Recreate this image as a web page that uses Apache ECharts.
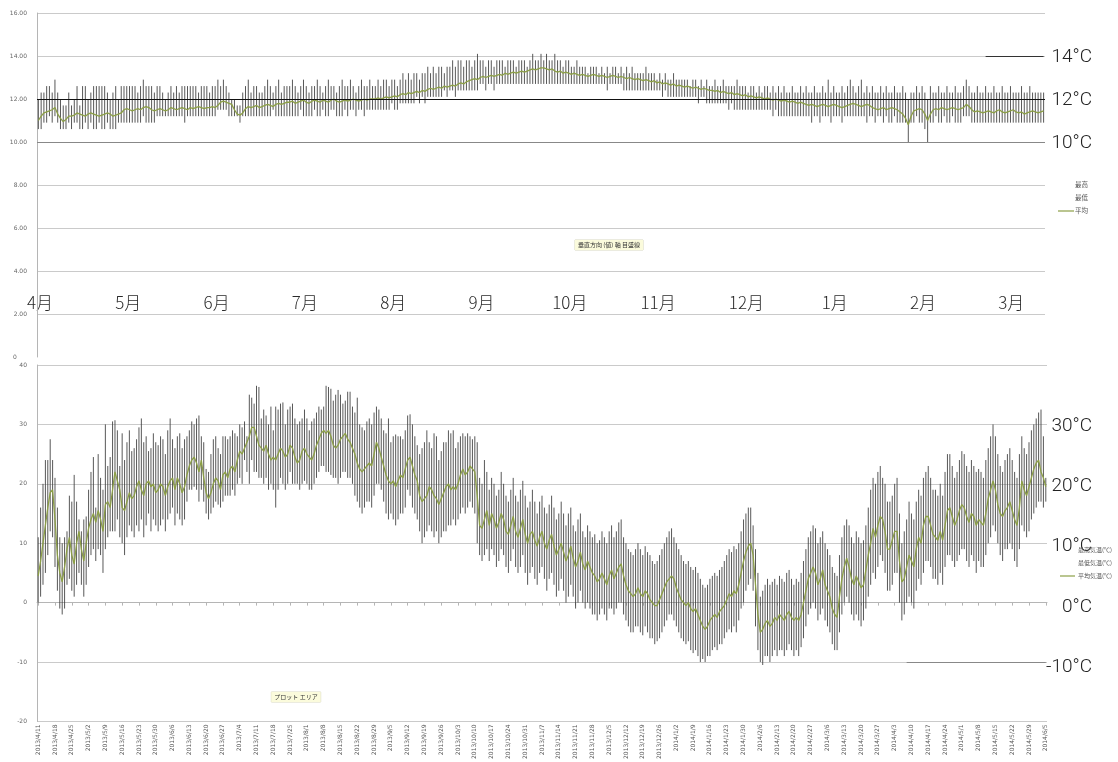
<!DOCTYPE html>
<html><head><meta charset="utf-8">
<script src="https://cdn.jsdelivr.net/npm/echarts@6/dist/echarts.min.js"></script>
<style>html,body{margin:0;padding:0;background:#fff;}#c{width:1118px;height:762px;}</style>
</head><body><div id="c"></div>
<script>
// ---------- top chart (daily, 4月 .. 3月) ----------
const monthLabels = ['4月','5月','6月','7月','8月','9月','10月','11月','12月','1月','2月','3月'];
const topLegend = ['最高','最低','平均'];
const topUnitLabels = [['14°C',14],['12°C',12],['10°C',10]];

const topAvg = [
11.0,11.2,11.35,11.4,11.45,11.5,11.6,11.3,11.1,10.95,11.05,11.2,11.2,11.25,11.35,11.3,11.25,11.2,11.3,11.35,11.3,11.25,11.2,11.25,11.3,11.35,11.3,11.2,11.25,11.3,
11.35,11.5,11.55,11.5,11.45,11.5,11.55,11.5,11.6,11.65,11.6,11.5,11.45,11.5,11.55,11.5,11.45,11.5,11.6,11.55,11.5,11.55,11.6,11.55,11.5,11.6,11.55,11.6,11.65,11.6,11.55,
11.6,11.6,11.65,11.6,11.7,11.85,11.9,11.85,11.8,11.75,11.5,11.3,11.25,11.35,11.55,11.65,11.6,11.65,11.7,11.6,11.65,11.7,11.75,11.7,11.65,11.75,11.8,11.75,11.8,11.85,
11.85,11.9,11.8,11.85,11.9,11.95,11.85,11.8,11.9,11.95,11.9,11.85,11.95,11.9,11.85,11.95,12.0,11.9,11.85,11.9,11.95,11.9,11.95,12.0,11.95,11.9,11.95,12.0,11.95,12.0,12.0,
12.0,12.05,12.0,12.05,12.1,12.05,12.1,12.15,12.1,12.2,12.25,12.2,12.3,12.25,12.3,12.35,12.3,12.4,12.35,12.45,12.5,12.45,12.5,12.55,12.5,12.6,12.55,12.6,12.65,12.6,12.7,
12.75,12.7,12.8,12.85,12.9,12.95,12.9,13.0,13.05,13.0,13.05,13.1,13.05,13.1,13.15,13.1,13.2,13.15,13.2,13.25,13.2,13.25,13.3,13.25,13.3,13.35,13.4,13.35,13.4,13.45,
13.45,13.4,13.35,13.4,13.3,13.25,13.3,13.2,13.25,13.2,13.15,13.2,13.15,13.1,13.15,13.1,13.05,13.1,13.15,13.1,13.05,13.1,13.05,13.0,13.05,13.1,13.05,13.0,13.05,13.0,12.95,
13.0,12.95,12.9,12.95,12.9,12.85,12.9,12.85,12.8,12.85,12.75,12.8,12.7,12.75,12.7,12.65,12.7,12.6,12.65,12.6,12.55,12.6,12.55,12.5,12.55,12.5,12.45,12.5,12.45,12.4,
12.4,12.35,12.4,12.3,12.35,12.3,12.25,12.3,12.2,12.25,12.2,12.15,12.2,12.1,12.15,12.1,12.05,12.1,12.05,12.0,12.05,12.0,11.95,12.0,11.95,11.9,11.95,11.9,11.85,11.9,11.85,
11.8,11.85,11.8,11.75,11.7,11.75,11.7,11.65,11.7,11.75,11.7,11.65,11.7,11.75,11.7,11.65,11.6,11.65,11.7,11.75,11.8,11.75,11.7,11.65,11.7,11.75,11.7,11.6,11.55,11.5,11.55,
11.6,11.5,11.55,11.6,11.55,11.5,11.4,11.3,11.1,10.8,11.2,11.45,11.5,11.55,11.5,11.3,11.0,11.3,11.5,11.55,11.5,11.6,11.55,11.5,11.55,11.6,11.55,11.5,
11.55,11.6,11.75,11.65,11.5,11.4,11.45,11.4,11.35,11.4,11.45,11.4,11.35,11.45,11.5,11.4,11.35,11.4,11.45,11.5,11.4,11.35,11.4,11.3,11.35,11.4,11.45,11.4,11.35,11.4,11.45
];
const topHigh = [
12.0,12.3,12.3,12.6,12.6,12.3,12.9,12.3,12.0,11.7,11.7,12.3,11.7,12.0,12.6,11.7,12.6,12.6,12.0,12.3,12.6,12.6,12.6,12.6,12.6,12.3,12.0,12.3,12.6,12.0,
12.6,12.6,12.6,12.6,12.6,12.6,12.3,12.6,12.9,12.6,12.6,12.6,12.3,12.6,12.6,12.3,12.0,12.3,12.6,12.3,12.6,12.3,12.6,12.6,12.6,12.6,12.6,12.6,12.3,12.6,12.6,
12.6,12.3,12.6,12.6,12.9,12.6,12.9,12.6,12.3,12.0,12.0,11.7,11.7,12.3,12.6,12.9,12.3,12.6,12.6,12.3,12.3,12.6,12.9,12.6,12.3,12.6,12.9,12.3,12.6,12.6,
12.6,12.9,12.6,12.3,12.6,12.9,12.6,12.3,12.6,12.6,12.9,12.6,12.3,12.6,12.9,12.6,12.6,12.3,12.6,12.9,12.6,12.6,12.9,12.6,12.3,12.6,12.9,12.6,12.6,12.9,12.6,
12.6,12.9,12.6,12.9,12.9,12.6,12.9,12.9,12.6,12.9,13.2,12.9,13.2,12.9,13.2,13.2,12.9,13.2,13.2,13.5,13.2,13.5,13.2,13.5,13.5,13.2,13.5,13.5,13.8,13.5,13.8,
13.8,13.5,13.8,13.8,13.5,13.8,14.1,13.8,13.8,13.5,13.8,13.8,13.5,13.8,13.8,13.8,13.5,13.8,13.8,13.8,13.5,13.8,13.8,13.8,13.5,13.8,14.1,13.8,13.8,14.1,
13.8,14.1,13.8,13.8,14.1,13.8,13.8,13.5,13.8,13.8,13.5,13.5,13.8,13.5,13.5,13.5,13.2,13.5,13.5,13.5,13.2,13.5,13.2,13.5,13.2,13.5,13.5,13.2,13.5,13.2,13.5,
13.2,13.5,13.2,13.2,13.2,13.2,13.5,13.2,13.2,13.2,12.9,13.2,12.9,13.2,12.9,12.9,13.2,12.9,12.9,12.9,12.9,12.9,12.6,12.9,12.9,12.6,12.9,12.6,12.9,12.6,
12.6,12.9,12.6,12.6,12.9,12.6,12.6,12.6,12.6,12.9,12.6,12.6,12.6,12.3,12.6,12.6,12.3,12.6,12.3,12.6,12.6,12.3,12.6,12.3,12.6,12.3,12.6,12.3,12.3,12.6,12.3,
12.3,12.6,12.3,12.6,12.3,12.3,12.6,12.3,12.3,12.6,12.3,12.9,12.3,12.6,12.3,12.3,12.6,12.3,12.6,12.9,12.6,12.3,12.6,12.9,12.3,12.6,12.3,12.6,12.3,12.3,12.6,
12.3,12.6,12.3,12.3,12.6,12.3,12.3,12.6,12.3,12.0,12.3,12.3,12.6,12.3,12.6,12.3,12.0,12.6,12.3,12.3,12.6,12.3,12.3,12.6,12.3,12.3,12.6,12.3,
12.3,12.6,12.9,12.6,12.3,12.3,12.6,12.3,12.3,12.6,12.3,12.3,12.6,12.3,12.3,12.6,12.3,12.3,12.6,12.3,12.3,12.3,12.6,12.3,12.3,12.6,12.3,12.3,12.3,12.3,12.3
];
const topLow = [
10.6,10.6,10.9,10.9,11.2,10.9,11.2,10.9,10.6,10.6,10.6,10.9,10.6,10.9,10.9,10.6,10.6,10.9,10.6,10.9,10.6,10.6,10.9,10.6,10.6,10.9,10.6,10.6,10.6,10.9,
10.9,10.9,10.9,10.9,10.9,10.9,10.9,10.9,11.2,10.9,10.9,10.9,10.9,11.2,11.2,11.2,11.2,11.2,11.2,11.2,11.2,11.2,11.2,10.9,11.2,11.2,11.2,11.2,11.2,11.2,11.2,
11.2,11.2,11.2,11.2,11.5,11.5,11.5,11.5,11.2,11.2,11.2,11.2,10.9,11.2,11.2,11.2,11.2,11.2,11.2,11.2,11.2,11.2,11.2,11.2,11.5,11.2,11.2,11.2,11.2,11.2,
11.2,11.2,11.2,11.2,11.5,11.2,11.2,11.2,11.2,11.5,11.2,11.2,11.5,11.2,11.2,11.5,11.5,11.2,11.2,11.2,11.5,11.2,11.5,11.5,11.2,11.5,11.5,11.2,11.5,11.5,11.5,
11.5,11.5,11.5,11.5,11.5,11.5,11.8,11.5,11.5,11.8,11.8,11.8,11.8,11.8,11.8,12.1,11.8,12.1,11.8,12.1,12.1,12.1,12.1,12.1,12.1,12.4,12.1,12.4,12.4,12.1,12.4,
12.4,12.4,12.4,12.4,12.4,12.4,12.4,12.7,12.7,12.4,12.7,12.7,12.4,12.7,12.7,12.7,12.7,12.7,12.7,12.7,12.7,12.7,12.7,12.7,12.7,12.7,12.7,12.7,12.7,12.7,
12.7,12.7,12.7,12.7,12.7,12.7,12.7,12.7,12.7,12.7,12.7,12.7,12.7,12.7,12.7,12.7,12.7,12.7,12.7,12.7,12.7,12.7,12.7,12.4,12.7,12.7,12.7,12.7,12.7,12.4,12.4,
12.4,12.4,12.4,12.4,12.4,12.4,12.4,12.4,12.4,12.4,12.4,12.4,12.1,12.4,12.1,12.1,12.1,12.1,12.1,12.1,12.1,12.1,12.1,12.1,12.1,11.8,12.1,12.1,11.8,11.8,
11.8,11.8,11.8,11.8,11.8,11.8,11.5,11.8,11.5,11.5,11.5,11.5,11.5,11.5,11.5,11.5,11.5,11.5,11.5,11.5,11.5,11.5,11.2,11.5,11.2,11.2,11.2,11.2,11.2,11.2,11.2,
11.2,11.2,11.2,11.2,11.2,10.9,11.2,11.2,10.9,11.2,11.2,11.2,10.9,11.2,11.2,11.2,10.9,11.2,11.2,11.2,11.2,11.2,11.2,11.2,11.2,10.9,11.2,11.2,10.9,11.2,11.2,
10.9,11.2,10.9,10.9,11.2,10.9,10.9,10.9,10.9,10.0,10.9,10.9,11.2,10.9,10.9,10.6,10.0,10.9,10.9,11.2,10.9,10.9,11.2,10.9,10.9,11.2,10.9,10.9,
10.9,11.2,11.2,11.2,10.9,10.9,10.9,10.9,10.9,10.9,10.9,10.9,10.9,10.9,10.9,10.9,10.9,10.9,10.9,10.9,10.9,10.9,10.9,10.9,10.9,10.9,10.9,10.9,10.9,10.9,10.9
];

// ---------- bottom chart (daily, 2013/4/11 .. 2014/6/5) ----------
const bottomStart = '2013/4/11';
const bottomUnitLabels = [['30°C',30],['20°C',20],['10°C',10],['0°C',0],['-10°C',-10]];
const bottomLegend = ['最高気温(℃)','最低気温(℃)','平均気温(℃)'];
const botAvg = [
4.5,7,10,13,16,18.5,19,14,8,5,
3.5,6,9,11,8,6.5,10,12,9,7,
10,12.5,14,15,13.5,15.5,14,12,16.5,17,
16,19,22,20.5,19,16,15.5,17,18.5,17.5,
18,19.5,20.5,19,18,20,20.5,19.5,20,18.5,
19,20,19.5,18,19.5,20.5,21,19,21,20,
18.5,19.5,21.5,23,24,24.5,23.5,22,24,21,
18.5,17.5,18.5,20,21,20.5,19,21.5,22,21,
22.5,23,22,24,25.5,25,26,27,28,29.5,
29.5,28,26.5,26,25.5,26.5,25,24,24.5,24,
25,26,25.5,24.5,25,26.5,26,24.5,23.5,24,
25.5,26,25,24.5,24,25,26.5,27.5,28.5,29,
28.5,29,28,26.5,26,26.5,27.5,28,28.5,27.5,
27,26,25,23.5,22.5,22,22.5,23,23.5,23,
25,27,26,24.5,23,21.5,20.5,20,20.5,19.5,
20.5,21.5,21,22.5,24,24.5,23,21.5,20.5,18,
17,17.5,18,19.5,19,18,17.5,16.5,17.5,18.5,
19.5,20,19,19.5,19,20,21.5,22.5,21.5,22,
23,22.5,22,18,13,12.5,14,15.5,13,15,
14,12.5,13.5,15,14,12,11.5,13,14.5,12,
11,12.5,14,11.5,10,11.5,12,10.5,9.5,11,
12,10,9,10.5,11.5,9.5,8,9,10,8.5,
7,8,9.5,7.5,6,7,8.5,6.5,5.5,7,
6,5,4.5,3.5,4,5,4,3,4.5,5.5,
4,5,6,6.5,4.5,3,2,1.5,1,1.5,
2.5,1.5,1,2,1.5,0.5,0,-0.5,-0.5,0.5,
1.5,2.5,3.5,4,4.5,4,2.5,1.5,0.5,0,
-0.5,0,-1,-1.5,-1,-2,-3,-4,-4.5,-4,
-3,-2.5,-2,-2.5,-1.5,-1,-0.5,0.5,1.5,1,
2,1.5,3,5,7,8.5,9.5,10,8,3,
-2,-5,-4.5,-3.5,-3,-4,-3.5,-2.5,-3,-2,
-2.5,-3,-2,-1.5,-2.5,-3,-2.5,-3,-2,0,
2,4,5,6,5,3,4,5.5,3,2,
1,-1,-2,-2.5,1,4,6,7.5,6,4,
3,4.5,3.5,2.5,3,5.5,8,10,12.5,11,
13,14.5,14,12,9,9,10.5,12,12,7,
3.5,4,6,8,7,6,9,11,10,13,
14.5,14.5,13,11.5,11,10.5,12,10.5,13,15.5,
16,14.5,13,14,15.5,16.5,16,14.5,13.5,15,
14.5,13,14,13.5,13,15,17.5,19,20.5,19,
16.5,15,14.5,15.5,16,17,15.5,14,13,16,
20.5,19,18,19.5,21,22.5,23.5,24,22,21,
19.5
];
const botHigh = [
11,16,20,24,24,27.5,24,21,16,11,
10,11,12,18,17,21.5,17,14,12,14,
14.5,19,22,24.5,16,25,21,19,30,23,
24.5,30.5,30.7,29,23,28.5,24,27,29,25.5,
26,27.5,29.5,31,27,28,25.5,26,28.5,27,
26.5,28,27.5,25,29,31,27.5,26,28,28.5,
26,27.5,28,29,30.5,30,31,31.5,28,27,
22.5,22,25,27.5,28,26,25,28,28,27.5,
28,29,28.5,28,30,29.5,30.5,28,35,34.5,
33.5,36.5,36.3,31,32.5,31.5,30,33,29,33,
32.5,33.5,33.7,30,32.5,33,33.5,31,30,30.5,
31,32.5,31,29,30.5,31,32,33,32.5,33,
36.5,36.3,36,34,35,35.8,35,33.5,34,35.5,
35.5,33,32,34.5,30,29.5,29,30.5,31,30,
32,33,32.5,31,29,28.5,31,27,28,28.3,
28,28,27.5,29,31.5,31.7,30,28,26.5,25,
26,27,29,27,26,28.5,28,24,25.5,27,
27,29,28.5,29,26,27,28,28.5,28,28.5,
28,27.5,28,27,21,20,24,22,19,21,
20,18,19,22,20,18,17,19,21,18,
17,19,20.5,18,16,17,19,17,15,17,
18,16,15,16.5,18,16,14,15,17,15,
13,15,16,13,12,14,15,12,11,13,
12,11,11.5,10,10.5,12,11,10,12,13,
11,12,13.5,14,11,10,9,8.5,8,9,
10,9,8,9.5,8.5,8,7,6.5,7,8,
9,10,11,12,12.5,11,10,9,8,7,
6.5,7,6,5.5,6,5,4,3,2.5,3,
4,4.5,5,4.5,5.5,6,7,8,9,8.5,
9.5,9,10,12,14,15,16,16,13,9,
5,1,2,3,4,3,3.5,4,3,4.5,
4,3.5,5,5.5,4,3,4,3.5,5,7,
9,11,12,13,12.5,10,11,12,10,9,
8,6,5,4.5,8,11,13,14,13,11,
10,12,11,10,10.5,13,16,19,21,20,
22,23,21,20,17,17,18,20,21,15,
10,12,14,17,15,14,17,19,18,21,
22,23,21,19,19,18,20,18,22,25,
25,23,21,22,24,25.5,25,23,22,24,
23,22,22.5,22,21,24,26,28,30,28,
25,23,22,24,25,26,24,22,21,25,
28,26,25,27,29,30,31,32,32.5,28,
21
];
const botLow = [
0,1,3,5,8,12,11,6,2,-1,
-2,-1,3,4,2,1,3,5,3,1,
3,6,8,9,7,9,8,5,9,11,
12,12,12,14,11,10,8,11,13,12,
11,13,12,14,11,13,15,12,14,13,
12,13,14,12,14,15,16,13,15,14,
13,14,17,19,19,19.5,19,17,19,17,
15,14,15,16,17,16.5,16,17,18,18,
18,19,18,20,21,20,24,22,20,24,
22,22,21,21,20,21,19,20,19,16,
19,21,20,19,20,22,20,20,20,19,
20,20.5,20,19,19,20,21,22,23,23,
22,22,21.5,21,21,20,21,22,22,21,
21,20,18,17,16,15,16,17,17,16,
18,20,20,19,17,15,14,15,14,13,
14,15,15,16,19,18,16,15,14,12,
10,11,12,13,12,11,12,10,11,12,
12,13,13,14,13,14,15,16,15,16,
17,16,15,10,8,7,8,9,7,9,
8,6,7,9,8,6,5,7,9,6,
5,6,8,5,3,5,6,4,3,5,
6,4,2,4,5,3,1,2,4,2,
0,1,3,1,-1,0,2,0,-1,0,
-1,-2,-2,-3,-2,-1,-2,-3,-1,-1,
-2,-1,0,0,-2,-3,-4,-5,-5,-4,
-4,-5,-5.5,-4,-5,-6,-6,-7,-6.5,-6,
-5,-4,-3,-2,-2,-3,-4,-5,-6,-6.5,
-7,-6.5,-8,-8.5,-8,-9,-10,-9.5,-10,-9,
-9,-8,-7.5,-8,-7,-7,-6,-5,-4.5,-5,
-4,-5,-3,-1,0,2,3,4,2,-4,
-8,-10,-10.5,-9,-9,-10,-9,-8,-9,-8,
-8,-9,-8,-7,-8,-9,-8,-9,-7.5,-6,
-4,-2,-1,0,-1,-3,-2,-1,-3,-4,
-5,-7,-8,-8,-5,-2,0,1,0,-2,
-3,-2,-3,-4,-3,-1,1,3,5,4,
6,8,7,5,2,2,3,5,5,0,
-3,-2,0,1,0,-1,2,4,3,5,
7,7,6,4,4,3,5,3,6,8,
8,7,6,7,8,9,9,7,6,8,
7,5,7,6,6,8,10,11,13,12,
10,8,7,9,9,10,9,7,6,9,
13,12,11,12,14,15,16,17,17,16,
17
];

// category labels (dates)
function buildDates(start, n) {
  const p = start.split('/').map(Number);
  const out = [];
  for (let i = 0; i < n; i++) {
    const d = new Date(Date.UTC(p[0], p[1]-1, p[2] + i));
    out.push(d.getUTCFullYear() + '/' + (d.getUTCMonth()+1) + '/' + d.getUTCDate());
  }
  return out;
}
const botDates = buildDates(bottomStart, botAvg.length);
const topDays = topAvg.map((_, i) => String(i));

const chart = echarts.init(document.getElementById('c'), null, {renderer: 'canvas'});

function hiLo(params, api) {
  const i = api.value(0);
  const a = api.coord([i, api.value(1)]);
  const b = api.coord([i, api.value(2)]);
  return {type: 'line', shape: {x1: a[0], y1: a[1], x2: b[0], y2: b[1]},
          style: {stroke: '#3a3a3a', lineWidth: 0.85}};
}

const GREEN = '#8c9f47';
const axisLbl = {color: '#666', fontSize: 6, fontFamily: 'DejaVu Sans'};
const unitFont = '300 19px Roboto';

const graphics = [];
monthLabels.forEach((m, k) => {
  graphics.push({type: 'text', x: 40 + 88.3 * k, y: 303,
    style: {text: m, fill: '#2a2a2a', font: '300 17px "Noto Sans CJK JP"', textAlign: 'center', textVerticalAlign: 'middle'}});
});
const topY = v => 357 - v * 21.5;
topUnitLabels.forEach(([t, v]) => graphics.push({type: 'text', x: 1092, y: topY(v) + 1,
  style: {text: t, fill: '#222', font: unitFont, textAlign: 'right', textVerticalAlign: 'middle'}}));
const botY = v => 606 - v * 6.03;
bottomUnitLabels.forEach(([t, v]) => graphics.push({type: 'text', x: 1092, y: botY(v) + 1,
  style: {text: t, fill: '#222', font: unitFont, textAlign: 'right', textVerticalAlign: 'middle'}}));
topLegend.forEach((t, k) => graphics.push({type: 'text', x: 1088, y: 185 + 13 * k,
  style: {text: t, fill: '#555', font: '6.5px "Noto Sans CJK JP"', textAlign: 'right', textVerticalAlign: 'middle'}}));
graphics.push({type: 'line', shape: {x1: 1058, y1: 211, x2: 1074, y2: 211}, style: {stroke: GREEN, lineWidth: 1.2}});
bottomLegend.forEach((t, k) => graphics.push({type: 'text', x: 1112, y: 550 + 13 * k,
  style: {text: t, fill: '#555', font: '6px "Noto Sans CJK JP"', textAlign: 'right', textVerticalAlign: 'middle'}}));
graphics.push({type: 'line', shape: {x1: 1060, y1: 576, x2: 1075, y2: 576}, style: {stroke: GREEN, lineWidth: 1.2}});
graphics.push({type: 'text', x: 609, y: 245, style: {text: '垂直方向 (値) 軸 目盛線', fill: '#333',
  font: '6px "Noto Sans CJK JP"', textAlign: 'center', textVerticalAlign: 'middle',
  backgroundColor: '#fbfbdc', borderColor: '#d8d8c0', borderWidth: 0.5, padding: [2, 3]}});
graphics.push({type: 'text', x: 296, y: 697, style: {text: 'プロット エリア', fill: '#333',
  font: '6px "Noto Sans CJK JP"', textAlign: 'center', textVerticalAlign: 'middle',
  backgroundColor: '#fbfbdc', borderColor: '#d8d8c0', borderWidth: 0.5, padding: [2, 3]}});
graphics.push({type: 'text', x: 15, y: 357, style: {text: '0', fill: '#666', font: '6px "DejaVu Sans"',
  textAlign: 'center', textVerticalAlign: 'middle'}});

const option = {
  animation: false,
  backgroundColor: '#fff',
  grid: [
    {left: 37, top: 13, width: 1008, height: 344},
    {left: 37, top: 365, width: 1010, height: 362}
  ],
  xAxis: [
    {type: 'category', gridIndex: 0, data: topDays, boundaryGap: true, show: false},
    {type: 'category', gridIndex: 1, data: botDates, boundaryGap: true, position: 'bottom',
     axisLine: {onZero: true, lineStyle: {color: '#b5b5b5'}},
     axisTick: {show: true, interval: 6, alignWithLabel: true, length: 3, lineStyle: {color: '#b5b5b5'}},
     axisLabel: {show: false}, splitLine: {show: false}},
    {type: 'category', gridIndex: 1, data: botDates, boundaryGap: true, position: 'bottom',
     axisLine: {show: false, onZero: false}, axisTick: {show: false},
     axisLabel: {show: true, interval: 6, rotate: 90, fontSize: 6, color: '#555', margin: 3, fontFamily: 'DejaVu Sans'},
     splitLine: {show: false}}
  ],
  yAxis: [
    {type: 'value', gridIndex: 0, min: 0, max: 16, interval: 2,
     axisLine: {show: true, lineStyle: {color: '#b5b5b5'}}, axisTick: {show: false},
     axisLabel: Object.assign({margin: 10, formatter: v => v === 0 ? '' : v.toFixed(2)}, axisLbl),
     splitLine: {showMinLine: false, lineStyle: {color: '#cacaca'}}},
    {type: 'value', gridIndex: 1, min: -20, max: 40, interval: 10,
     axisLine: {show: true, lineStyle: {color: '#b5b5b5'}}, axisTick: {show: false},
     axisLabel: Object.assign({margin: 10}, axisLbl),
     splitLine: {lineStyle: {color: '#cacaca'}}}
  ],
  series: [
    {type: 'custom', xAxisIndex: 0, yAxisIndex: 0, renderItem: hiLo, silent: true,
     encode: {x: 0, y: [1, 2]},
     data: topAvg.map((_, i) => [i, topHigh[i], topLow[i]])},
    {type: 'line', xAxisIndex: 0, yAxisIndex: 0, data: topAvg, showSymbol: false, silent: true,
     lineStyle: {color: GREEN, width: 1.3},
     markLine: {silent: true, symbol: 'none', label: {show: false},
       data: [
         {yAxis: 12, lineStyle: {color: '#111', width: 1, type: 'solid'}},
         {yAxis: 10, lineStyle: {color: '#888', width: 1, type: 'solid'}},
         [{coord: [343, 14], lineStyle: {color: '#333', width: 1, type: 'solid'}}, {coord: [364, 14]}]
       ]}},
    {type: 'custom', xAxisIndex: 1, yAxisIndex: 1, renderItem: hiLo, silent: true,
     encode: {x: 0, y: [1, 2]},
     data: botAvg.map((_, i) => [i, botHigh[i], botLow[i]])},
    {type: 'line', xAxisIndex: 1, yAxisIndex: 1, data: botAvg, showSymbol: false, silent: true,
     lineStyle: {color: GREEN, width: 1.3},
     markLine: {silent: true, symbol: 'none', label: {show: false},
       data: [[{coord: [362, -10], lineStyle: {color: '#888', width: 1, type: 'solid'}}, {coord: [420, -10]}]]}}
  ],
  graphic: graphics
};
chart.setOption(option);
</script>
</body></html>
